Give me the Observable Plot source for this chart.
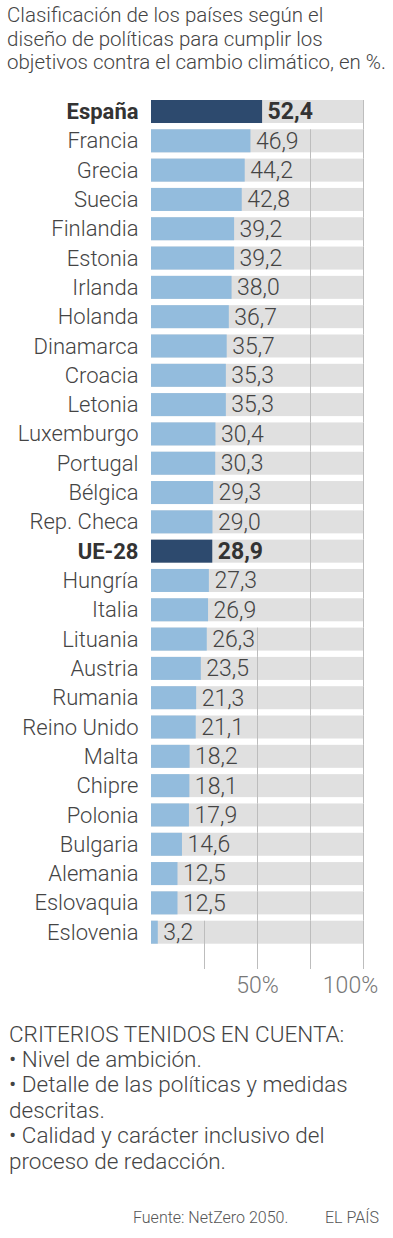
<!DOCTYPE html>
<html><head><meta charset="utf-8">
<script src="https://cdn.jsdelivr.net/npm/d3@7"></script>
<script src="https://cdn.jsdelivr.net/npm/@observablehq/plot@0.6"></script>
<style>
body{margin:0;background:#fff;font-family:Roboto,sans-serif;color:#444;}
#wrap{position:relative;width:393px;height:1238px;overflow:hidden;}
#title{position:absolute;left:7px;top:4px;font-size:20.5px;line-height:23.5px;font-weight:300;white-space:nowrap;}
#chart{position:absolute;left:0;top:80px;line-height:0;}
#notes{position:absolute;left:9px;top:1021.5px;font-size:22.5px;line-height:25.4px;font-weight:300;white-space:nowrap;}
.src{position:absolute;top:1208px;font-size:16px;line-height:20px;font-weight:300;color:#555;white-space:nowrap;}
</style></head>
<body><div id="wrap">
<div id="title">Clasificación de los países según el<br>diseño de políticas para cumplir los<br>objetivos contra el cambio climático, en %.</div>
<div id="chart"></div>
<div id="notes">CRITERIOS TENIDOS EN CUENTA:<br>• Nivel de ambición.<br>• Detalle de las políticas y medidas<br>descritas.<br>• Calidad y carácter inclusivo del<br>proceso de redacción.</div>
<div class="src" style="left:133px">Fuente: NetZero 2050.</div>
<div class="src" style="left:325px">EL PAÍS</div>
</div>
<script>
const countries = ["España","Francia","Grecia","Suecia","Finlandia","Estonia","Irlanda","Holanda","Dinamarca","Croacia","Letonia","Luxemburgo","Portugal","Bélgica","Rep. Checa","UE-28","Hungría","Italia","Lituania","Austria","Rumania","Reino Unido","Malta","Chipre","Polonia","Bulgaria","Alemania","Eslovaquia","Eslovenia"];
const values = [52.4,46.9,44.2,42.8,39.2,39.2,38.0,36.7,35.7,35.3,35.3,30.4,30.3,29.3,29.0,28.9,27.3,26.9,26.3,23.5,21.3,21.1,18.2,18.1,17.9,14.6,12.5,12.5,3.2];
const highlighted = ["España","UE-28"];
const gridTicks = [25,50,75,100];
const axisLabels = [50,100];

const data = countries.map((c,i)=>({country:c, value:values[i], hl:highlighted.includes(c), label:values[i].toFixed(1).replace(".",",")}));

const W = 393, H = 925, mL = 151, mR = 30, mT = 16.85, mB = 58.15;
const pIn = 0.215, pOut = 0.1075;
const step = (H - mT - mB) / (countries.length - pIn + 2*pOut);
const bw = step*(1-pIn), gap = step - bw;
const xs = v => mL + v/100*(W - mL - mR);

const canvas = document.createElement("canvas");
const ctx = canvas.getContext("2d");
const FS = 23, FSL = 22, dxVal = 5;
function labelEnd(d){
  ctx.font = (d.hl ? "700 " : "300 ") + FS + "px Roboto";
  return xs(d.value) + dxVal + ctx.measureText(d.label).width;
}
const segs = [];
data.forEach(d => { const e = labelEnd(d); gridTicks.forEach(t => { if (xs(t) > e + 2) segs.push({country:d.country, t}); }); });
const last = countries[countries.length-1];
const tail = 969 - 80 - (mT + (countries.length - 1 + pOut)*step + bw);
const tailData = gridTicks.map(t => ({country:last, t}));

const plot = Plot.plot({
  width: W, height: H, marginLeft: mL, marginRight: mR, marginTop: mT, marginBottom: mB,
  style: {fontFamily: "Roboto, sans-serif", fontSize: FS+"px", background: "transparent"},
  x: {domain: [0,100], axis: null},
  y: {domain: countries, axis: null, paddingInner: pIn, paddingOuter: pOut, align: 0.5, round: false},
  marks: [
    Plot.barX(data, {y: "country", x1: 0, x2: 100, fill: "#e0e0e0"}),
    Plot.tickX(segs, {x: "t", y: "country", stroke: "#bdbdbd", strokeWidth: 1, insetBottom: -gap}),
    Plot.tickX(tailData, {x: "t", y: "country", stroke: "#bdbdbd", strokeWidth: 1, insetTop: bw + gap - 0.5, insetBottom: -tail}),
    Plot.barX(data, {y: "country", x1: 0, x2: "value", fill: d => d.hl ? "#2d4a6e" : "#93bcdd"}),
    Plot.text(data.filter(d=>!d.hl), {y: "country", x: 0, text: "country", textAnchor: "end", dx: -13, fill: "#444", fontWeight: 300, fontSize: FSL}),
    Plot.text(data.filter(d=>d.hl), {y: "country", x: 0, text: "country", textAnchor: "end", dx: -13, fill: "#333", fontWeight: 700, fontSize: FSL}),
    Plot.text(data.filter(d=>!d.hl), {y: "country", x: "value", text: "label", textAnchor: "start", dx: dxVal, fill: "#444", fontWeight: 300}),
    Plot.text(data.filter(d=>d.hl), {y: "country", x: "value", text: "label", textAnchor: "start", dx: dxVal, fill: "#333", fontWeight: 700}),
    Plot.text(axisLabels.filter(d=>d<100), {x: d=>d, frameAnchor: "bottom", dy: 46, text: d=>d+"%", fill: "#777", fontWeight: 300, textAnchor: "middle"}),
    Plot.text(axisLabels.filter(d=>d==100), {x: d=>d, frameAnchor: "bottom", dy: 46, dx: -13, text: d=>d+"%", fill: "#777", fontWeight: 300, textAnchor: "middle"})
  ]
});
document.getElementById("chart").appendChild(plot);
</script>
</body></html>
